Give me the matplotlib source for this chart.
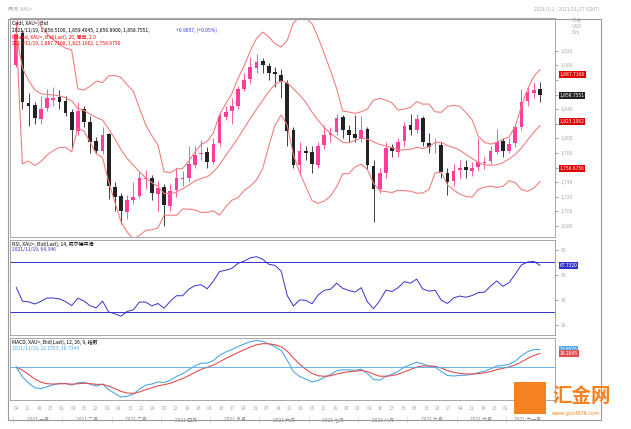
import numpy as np
import pandas as pd
import matplotlib.pyplot as plt
from matplotlib.patches import Rectangle

plt.rcParams['font.family'] = ['Noto Sans CJK SC', 'DejaVu Sans']

# semi-weekly candles, Jan 4 - Nov 19 2021
close = [1943, 1850, 1845, 1828, 1840, 1855, 1855, 1850,
         1835, 1812, 1838, 1823, 1795, 1783, 1805, 1734,
         1720, 1700, 1715, 1720, 1745, 1745, 1725, 1732,
         1708, 1728, 1745, 1745, 1765, 1777, 1780, 1768,
         1792, 1830, 1836, 1844, 1868, 1880, 1898, 1905,
         1900, 1890, 1888, 1877, 1810, 1764, 1782, 1780,
         1765, 1790, 1805, 1808, 1828, 1812, 1805, 1800,
         1812, 1763, 1730, 1752, 1787, 1782, 1795, 1817,
         1812, 1827, 1795, 1788, 1790, 1754, 1740, 1755,
         1760, 1756, 1760, 1767, 1768, 1782, 1795, 1783,
         1792, 1816, 1850, 1863, 1866, 1859]
open_ = [1900, 1945, 1848, 1846, 1826, 1842, 1853, 1857,
         1851, 1836, 1810, 1840, 1822, 1796, 1782, 1806,
         1733, 1721, 1699, 1716, 1721, 1744, 1746, 1724,
         1733, 1707, 1729, 1744, 1746, 1764, 1778, 1781,
         1767, 1793, 1829, 1837, 1845, 1867, 1881, 1897,
         1906, 1899, 1891, 1887, 1876, 1811, 1763, 1783,
         1781, 1764, 1791, 1804, 1809, 1829, 1811, 1806,
         1799, 1813, 1762, 1731, 1753, 1788, 1781, 1796,
         1818, 1811, 1828, 1794, 1789, 1791, 1753, 1741,
         1756, 1761, 1755, 1761, 1766, 1769, 1781, 1796,
         1782, 1793, 1815, 1851, 1862, 1867]
high = [1959, 1948, 1862, 1850, 1858, 1868, 1870, 1866,
        1858, 1840, 1850, 1845, 1830, 1802, 1815, 1808,
        1740, 1725, 1722, 1740, 1755, 1757, 1750, 1742,
        1738, 1738, 1760, 1755, 1790, 1790, 1798, 1788,
        1800, 1835, 1845, 1856, 1872, 1890, 1912, 1916,
        1910, 1903, 1898, 1895, 1880, 1815, 1795, 1790,
        1790, 1795, 1818, 1815, 1834, 1832, 1818, 1832,
        1830, 1815, 1770, 1760, 1795, 1792, 1800, 1822,
        1834, 1834, 1830, 1808, 1800, 1795, 1760, 1765,
        1770, 1770, 1767, 1800, 1775, 1790, 1813, 1800,
        1800, 1820, 1868, 1870, 1877, 1877]
low = [1898, 1840, 1817, 1820, 1820, 1838, 1845, 1840,
       1830, 1785, 1805, 1815, 1780, 1780, 1778, 1717,
       1700, 1683, 1690, 1710, 1718, 1730, 1715, 1700,
       1680, 1700, 1720, 1735, 1740, 1760, 1770, 1760,
       1765, 1790, 1825, 1820, 1840, 1865, 1875, 1890,
       1890, 1880, 1870, 1855, 1790, 1760, 1750, 1770,
       1752, 1760, 1785, 1795, 1805, 1800, 1795, 1795,
       1795, 1758, 1685, 1725, 1745, 1775, 1775, 1790,
       1805, 1808, 1790, 1780, 1780, 1745, 1722, 1735,
       1745, 1746, 1748, 1755, 1758, 1765, 1778, 1775,
       1780, 1788, 1812, 1845, 1855, 1850]

months = ['2021 一月', '2021 二月', '2021 三月', '2021 四月', '2021 五月', '2021 六月',
          '2021 七月', '2021 八月', '2021 九月', '2021 十月', '2021 十一月']
days = ['04', '11', '18', '25', '01', '08', '15', '22', '01', '08', '15', '22', '29',
        '05', '12', '19', '26', '03', '10', '17', '24', '31', '07', '14', '21', '28',
        '05', '12', '19', '26', '02', '09', '16', '23', '30', '06', '13', '20', '27',
        '04', '11', '18', '25', '01', '08', '15', '22']

c = np.array(close, float)
n = len(c)
x = np.arange(n)
s = pd.Series(c)
w = 10
mid = s.rolling(w, min_periods=1).mean()
sd = s.rolling(w, min_periods=1).std().fillna(0)
up, dn = mid + 2 * sd, mid - 2 * sd
d = s.diff().fillna(0)
gain = d.clip(lower=0)
loss = -d.clip(upper=0)
gain.iloc[0] = loss.iloc[0] = 15.0  # neutral seed for Wilder smoothing
g = gain.ewm(alpha=1 / 12, adjust=False).mean()
l = loss.ewm(alpha=1 / 12, adjust=False).mean()
rsi = 100 - 100 / (1 + g / l)
macd = s.ewm(span=6, adjust=False).mean() - s.ewm(span=13, adjust=False).mean()
sig = macd.ewm(span=5, adjust=False).mean()

fig = plt.figure(figsize=(6.31, 4.29), dpi=100)
fig.patch.set_facecolor('white')
fs = 3.6
gray = '#aaaaaa'
L, W = 0.016, 0.864
ax1 = fig.add_axes([L, 0.448, W, 0.51])
ax2 = fig.add_axes([L, 0.219, W, 0.222])
ax3 = fig.add_axes([L, 0.068, W, 0.145])
for ax in (ax1, ax2, ax3):
    ax.set_xlim(-1, n + 1.5)
    ax.set_xticks([])
    ax.yaxis.tick_right()
    ax.tick_params(axis='y', labelsize=fs, colors=gray, length=2, pad=2)
    for sp in ax.spines.values():
        sp.set_color('#999999')
        sp.set_linewidth(0.6)

for i in range(n):
    col = '#ff3d9a' if close[i] >= open_[i] else '#222222'
    ax1.vlines(i, low[i], high[i], color=col, lw=0.6)
    ax1.add_patch(Rectangle((i - 0.3, min(open_[i], close[i])), 0.6,
                            max(abs(close[i] - open_[i]), 0.8), color=col, lw=0))
for b in (up, mid, dn):
    ax1.plot(x, b, color='#f08080', lw=0.8)
ax1.set_ylim(1665, 1965)
yt = list(range(1680, 1921, 20))
ax1.set_yticks(yt)
# labels hidden behind the value boxes
ax1.set_yticklabels(['' if v in (1760, 1820, 1860, 1880) else f'{v:,}' for v in yt])
ax1.text(0.003, 0.985, 'Cndl, XAU=, Bid', transform=ax1.transAxes, fontsize=fs, va='top')
ax1.text(0.003, 0.955, '2021/11/19, 1,858.5100, 1,859.4045, 1,856.8900, 1,858.7551,',
         transform=ax1.transAxes, fontsize=fs, va='top')
ax1.text(0.305, 0.955, '+0.9657, (+0.05%)', transform=ax1.transAxes, fontsize=fs,
         va='top', color='#3333ff')
ax1.text(0.003, 0.925, 'BBand, XAU=, Bid(Last), 20, 简单, 2.0', transform=ax1.transAxes,
         fontsize=fs, va='top', color='red')
ax1.text(0.003, 0.895, '2021/11/19, 1,887.7168, 1,823.1962, 1,758.6756',
         transform=ax1.transAxes, fontsize=fs, va='top', color='red')
for v, colr in ((1887.7168, '#dd0000'), (1858.7551, '#222222'),
                (1823.1962, '#dd0000'), (1758.6756, '#dd0000')):
    ax1.text(1.008, v, f'{v:,.4f}', transform=ax1.get_yaxis_transform(), fontsize=fs,
             color='white', va='center', bbox=dict(fc=colr, ec='none', pad=0.6))
ax1.text(1.03, 1.0, '价格\nUSD\nOzs', transform=ax1.transAxes, fontsize=fs, color=gray, va='top')

ax2.plot(x, rsi, color='#3333cc', lw=0.7)
ax2.axhline(70, color='#3333cc', lw=0.7)
ax2.axhline(30, color='#3333cc', lw=0.7)
ax2.set_ylim(12, 88)
ax2.set_yticks([20, 40, 60, 80])
ax2.text(0.003, 0.98, 'RSI, XAU=, Bid(Last), 14, 威尔德平滑', transform=ax2.transAxes,
         fontsize=fs, va='top')
ax2.text(0.003, 0.92, '2021/11/19, 64.346', transform=ax2.transAxes, fontsize=fs,
         va='top', color='#3333cc')
ax2.text(1.008, rsi.iloc[-1], f'{rsi.iloc[-1]:.4f}', transform=ax2.get_yaxis_transform(),
         fontsize=fs, color='white', va='center', bbox=dict(fc='#3333cc', ec='none', pad=0.6))

ax3.plot(x, macd, color='#4fa8e8', lw=0.8)
ax3.plot(x, sig, color='#e05050', lw=0.8)
ax3.axhline(0, color='#4fa8e8', lw=0.6)
ax3.set_yticks([])
ax3.text(0.003, 0.97, 'MACD, XAU=, Bid(Last), 12, 26, 9, 指数', transform=ax3.transAxes,
         fontsize=fs, va='top')
ax3.text(0.003, 0.87, '2021/11/19, 22.1553, 18.7344', transform=ax3.transAxes,
         fontsize=fs, va='top', color='#4fa8e8')
for v, colr in ((macd.iloc[-1], '#4fa8e8'), (sig.iloc[-1], '#e05050')):
    ax3.text(1.008, v, f'{v:.4f}', transform=ax3.get_yaxis_transform(), fontsize=fs,
             color='white', va='center', bbox=dict(fc=colr, ec='none', pad=0.6))

# date axis
xt = np.linspace(0, n - 1, len(days))
for xi, dd in zip(xt, days):
    ax3.text(xi, -0.1, dd, transform=ax3.get_xaxis_transform(), fontsize=fs,
             color=gray, ha='center', va='top')
for i, m in enumerate(months):
    xm = 8 * i + 3.5 if i < 10 else 83
    ax3.text(xm, -0.28, m, transform=ax3.get_xaxis_transform(), fontsize=fs,
             color='#888888', ha='center', va='top')
    ax3.text(8 * i - 0.5, -0.28, '|', transform=ax3.get_xaxis_transform(), fontsize=fs,
             color=gray, ha='center', va='top')

fig.text(0.012, 0.985, '概况  XAU=', fontsize=fs, color=gray, va='top')
fig.text(0.95, 0.985, '2021/1/1 - 2021/11/27 (GMT)', fontsize=fs, color=gray,
         va='top', ha='right')
fig.add_artist(Rectangle((0.012, 0.02), 0.94, 0.935, transform=fig.transFigure,
                         fill=False, ec='#999999', lw=0.8))

# watermark logo
fig.add_artist(Rectangle((0.815, 0.035), 0.05, 0.075, transform=fig.transFigure,
                         fc='#f58220', ec='none'))
fig.text(0.875, 0.075, '汇金网', fontsize=14, color='#f58220', va='center', fontweight='bold')
fig.text(0.875, 0.035, 'www.gold678.com', fontsize=4, color='#f58220', va='center')

fig.savefig('out.png', dpi=100)
